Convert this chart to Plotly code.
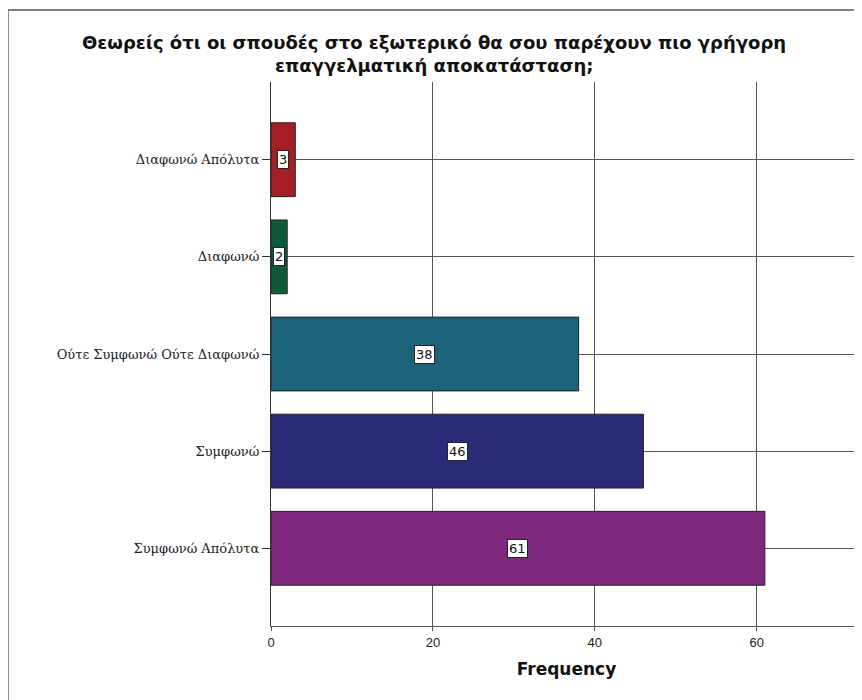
import plotly.graph_objects as go

categories = ["Διαφωνώ Απόλυτα", "Διαφωνώ", "Ούτε Συμφωνώ Ούτε Διαφωνώ", "Συμφωνώ", "Συμφωνώ Απόλυτα"]
frequencies = [3, 2, 38, 46, 61]
bar_colors = ["#A41E26", "#0E5B3A", "#1C6279", "#2A2A78", "#7E287E"]
x_ticks = [0, 20, 40, 60]
title_lines = ["Θεωρείς ότι οι σπουδές στο εξωτερικό θα σου παρέχουν πιο γρήγορη",
               "επαγγελματική αποκατάσταση;"]
x_title = "Frequency"

W, H = 854, 692
L, T, B = 263, 74, 74
PW, PH = W - L, H - T - B

fig = go.Figure()
fig.add_trace(go.Bar(
    x=frequencies, y=categories, orientation="h",
    marker=dict(color=bar_colors, line=dict(color="#222222", width=1)),
    width=0.76,
    hoverinfo="x+y",
))

for v, c in zip(frequencies, categories):
    fig.add_annotation(
        x=v / 2, y=c, text=str(v), showarrow=False,
        font=dict(family="DejaVu Sans", size=13, color="#111111"),
        bgcolor="white", bordercolor="#222222", borderwidth=1, borderpad=1,
        xanchor="center", yanchor="middle",
    )

# title, two tightly spaced lines
for line, fy in zip(title_lines, [35, 57]):
    fig.add_annotation(
        xref="paper", yref="paper", x=(426 - L) / PW, y=(H - B - fy) / PH,
        text="<b>" + line + "</b>", showarrow=False, xanchor="center", yanchor="middle",
        font=dict(family="DejaVu Sans", size=18, color="#111111"),
    )

fig.update_layout(
    width=W, height=H,
    margin=dict(l=L, r=0, t=T, b=B),
    paper_bgcolor="white", plot_bgcolor="white",
    showlegend=False,
    font=dict(family="Liberation Sans", color="#111111"),
)
fig.update_xaxes(
    range=[0, 73], tickvals=x_ticks, ticktext=[str(t) for t in x_ticks],
    showgrid=True, gridcolor="#555555", gridwidth=1.3,
    showline=True, linecolor="#555555", linewidth=1.3,
    ticks="outside", ticklen=4, tickcolor="#555555",
    tickfont=dict(family="Liberation Sans", size=13, color="#222222"),
    zeroline=False,
    title=dict(text="<b>" + x_title + "</b>", font=dict(family="DejaVu Sans", size=17, color="#111111"), standoff=14),
)
fig.update_yaxes(
    categoryorder="array", categoryarray=categories,
    autorange=False, range=[4.8, -0.8],
    showgrid=True, gridcolor="#555555", gridwidth=1.3,
    showline=True, linecolor="#333333", linewidth=1.3,
    ticks="outside", ticklen=8, tickcolor="#333333",
    tickfont=dict(family="DejaVu Serif", size=13, color="#222222"),
    zeroline=False,
)

# outer chart frame
fig.add_shape(type="rect", xref="paper", yref="paper",
              x0=(0 - L) / PW, x1=1.05, y0=-0.2, y1=(H - B - 2) / PH,
              line=dict(color="#555555", width=1.3), fillcolor="rgba(0,0,0,0)", layer="below")

fig.write_html("out.html")
